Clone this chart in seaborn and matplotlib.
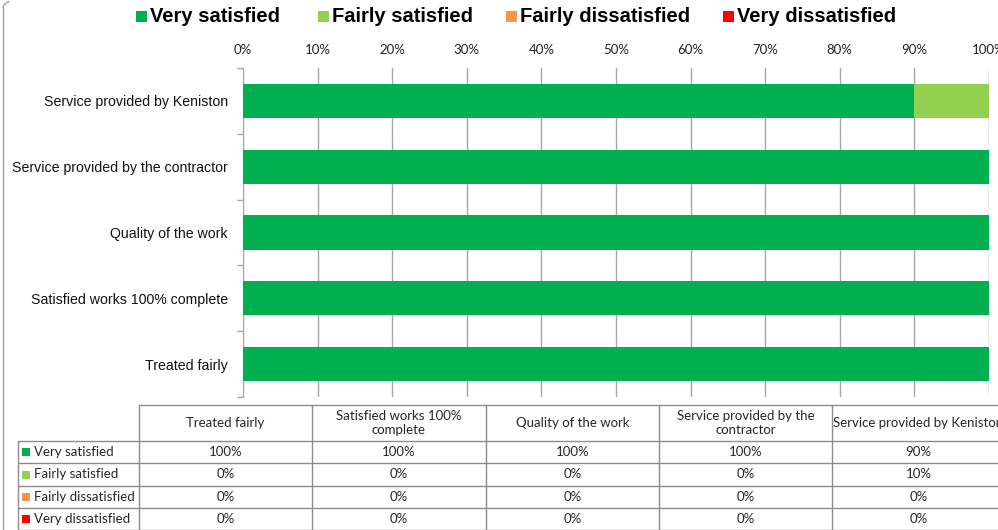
import numpy as np
import pandas as pd
import matplotlib
matplotlib.use('Agg')
import matplotlib.pyplot as plt
import seaborn as sns

# Data (table order, left to right)
questions = ['Treated fairly', 'Satisfied works 100%\ncomplete', 'Quality of the work',
             'Service provided by the\ncontractor', 'Service provided by Keniston']
bar_labels = ['Treated fairly', 'Satisfied works 100% complete', 'Quality of the work',
              'Service provided by the contractor', 'Service provided by Keniston']
responses = ['Very satisfied', 'Fairly satisfied', 'Fairly dissatisfied', 'Very dissatisfied']
very_satisfied = [100, 100, 100, 100, 90]
fairly_satisfied = [0, 0, 0, 0, 10]
fairly_dissatisfied = [0, 0, 0, 0, 0]
very_dissatisfied = [0, 0, 0, 0, 0]
colors = ['#00b050', '#92d050', '#f79646', '#ff0000']

series = [very_satisfied, fairly_satisfied, fairly_dissatisfied, very_dissatisfied]

sns.set_style('white')
plt.rcParams['font.family'] = ['Liberation Sans', 'DejaVu Sans']

fig = plt.figure(figsize=(9.98, 5.30), dpi=100)
W, H = 998, 530

# chart area in pixel coords
x0, x1, y0, y1 = 243, 989, 68, 397
ax = fig.add_axes([x0 / W, 1 - y1 / H, (x1 - x0) / W, (y1 - y0) / H])

order = bar_labels[::-1]
df = pd.DataFrame({'question': bar_labels})
cum = np.zeros(len(bar_labels))
cums = []
for s in series:
    cum = cum + np.array(s)
    cums.append(cum.copy())
# draw back to front so each segment shows on top of the next one
for i in range(len(series) - 1, -1, -1):
    df['val'] = cums[i]
    sns.barplot(data=df, x='val', y='question', order=order, color=colors[i],
                width=0.52, linewidth=0, saturation=1, ax=ax, zorder=3 + (len(series) - i),
                errorbar=None)

ax.set_xlim(0, 100)
ax.set_ylim(4.5, -0.5)
ax.xaxis.tick_top()
ax.set_xticks(range(0, 101, 10))
ax.set_xticklabels([f'{v}%' for v in range(0, 101, 10)], family=['Lato', 'DejaVu Sans'],
                   fontsize=9.5, color='#222222')
ax.tick_params(axis='x', length=0, pad=9)
ax.grid(axis='x', color='#a6a6a6', linewidth=1, zorder=0)
ax.set_xlabel('')
ax.set_ylabel('')
ax.set_yticks(range(5))
ax.set_yticklabels(order, fontsize=10.2, color='#111111')
ax.tick_params(axis='y', which='major', length=0, pad=11)
# boundary ticks on the category axis
ax.set_yticks(np.arange(-0.5, 5, 1), minor=True)
ax.tick_params(axis='y', which='minor', length=4, width=1, color='#a6a6a6', left=True)
for sp in ['top', 'right', 'bottom']:
    ax.spines[sp].set_visible(False)
ax.spines['left'].set_color('#a6a6a6')
ax.set_axisbelow(True)

# overlay in pixel coordinates for legend, table and frame
ov = fig.add_axes([0, 0, 1, 1], zorder=-1)
ov.set_xlim(0, W)
ov.set_ylim(H, 0)
ov.axis('off')

# chart frame (left edge visible)
ov.plot([3, 3], [8, 530], color='#a0a0a0', lw=1)
ov.plot([3, 4, 6, 9], [8, 5, 3, 1.5], color='#a0a0a0', lw=1)

# legend
leg_x = [136, 318, 506, 723]
for lx, lab, c in zip(leg_x, responses, colors):
    ov.add_patch(plt.Rectangle((lx, 11), 11, 11, color=c, lw=0))
    ov.text(lx + 14, 17, lab, fontsize=14.5, fontweight='bold', va='center', ha='left', color='#000000')

# data table
tfam = ['Lato', 'DejaVu Sans']
grid_c = '#8c8c8c'
col_edges = [139, 312, 486, 659, 832, 1005]
row_edges = [405, 441, 463, 486, 508, 530]
ov.plot([139, W], [405, 405], color=grid_c, lw=1)
for ye in row_edges[1:]:
    ov.plot([18, W], [ye, ye], color=grid_c, lw=1)
for xe in col_edges:
    ov.plot([xe, xe], [405, 530], color=grid_c, lw=1)
ov.plot([18, 18], [441, 530], color=grid_c, lw=1)

for j, q in enumerate(questions):
    cx = (col_edges[j] + col_edges[j + 1]) / 2
    ov.text(cx, 423, q, fontsize=9.5, ha='center', va='center', family=tfam, linespacing=1.2)
for r, (lab, s, c) in enumerate(zip(responses, series, colors)):
    cy = (row_edges[r + 1] + row_edges[r + 2]) / 2
    ov.add_patch(plt.Rectangle((22, cy - 4), 8, 8, color=c, lw=0))
    ov.text(34, cy, lab, fontsize=9.5, ha='left', va='center', family=tfam)
    for j, v in enumerate(s):
        cx = (col_edges[j] + col_edges[j + 1]) / 2
        ov.text(cx, cy, f'{v}%', fontsize=9.5, ha='center', va='center', family=tfam)

fig.savefig('out.png', dpi=100)
